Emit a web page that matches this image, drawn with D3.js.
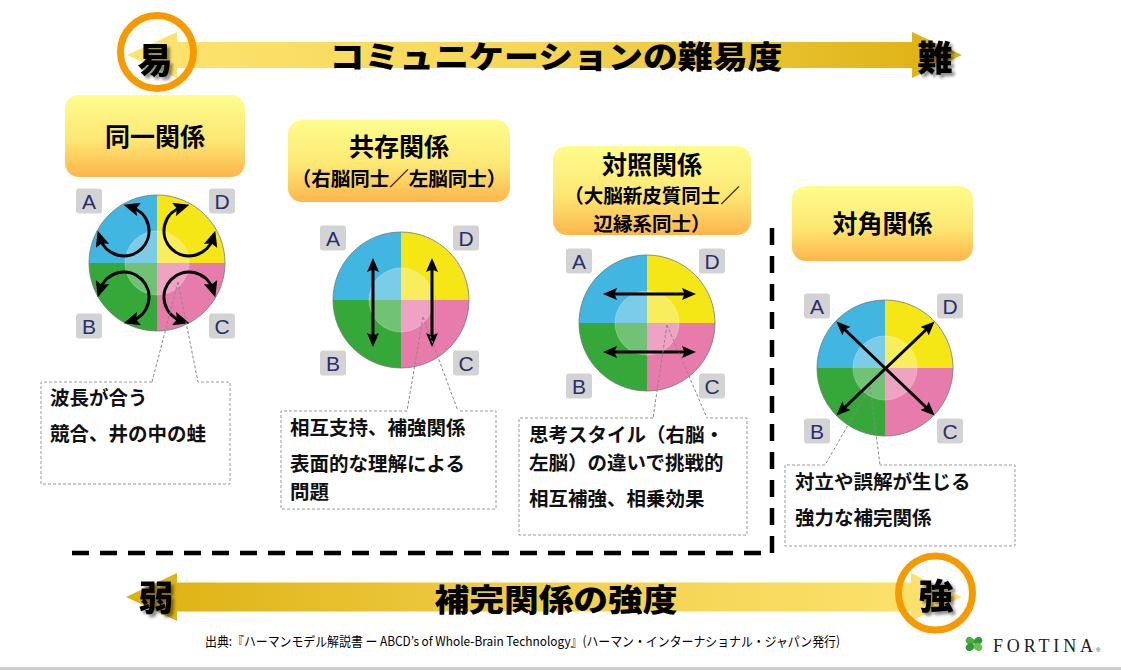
<!DOCTYPE html>
<html><head><meta charset="utf-8">
<script src="https://cdn.jsdelivr.net/npm/d3@7"></script>
<style>
html,body{margin:0;padding:0;background:#fff;}
svg{display:block;}
</style></head>
<body>
<svg id="chart" width="1121" height="670"></svg>
<script>
// ---------- data ----------
const topAxisTitle = "コミュニケーションの難易度";
const topAxisEnds = ["易", "難"];
const bottomAxisTitle = "補完関係の強度";
const bottomAxisEnds = ["弱", "強"];
const relationNames = ["同一関係", "共存関係", "対照関係", "対角関係"];
const relationSubs = [[], ["（右脳同士／左脳同士）"], ["（大脳新皮質同士／", "辺縁系同士）"], []];
const relationArrows = ["rotate", "vertical", "horizontal", "diagonal"];
const descriptions = [
  [["波長が合う"], ["競合、井の中の蛙"]],
  [["相互支持、補強関係"], ["表面的な理解による", "問題"]],
  [["思考スタイル（右脳・", "左脳）の違いで挑戦的"], ["相互補強、相乗効果"]],
  [["対立や誤解が生じる"], ["強力な補完関係"]]
];
const quadrantOrder = ["D", "C", "B", "A"];
const quadrantColors = ["#f5e616", "#e77bab", "#36a83a", "#41b6e0"];
const sourceText = "出典:『ハーマンモデル解説書 ー ABCD’s of Whole-Brain Technology』(ハーマン・インターナショナル・ジャパン発行)";
const logoText = "FORTINA";

// ---------- layout ----------
const JP = "'Noto Sans CJK JP','Noto Sans',sans-serif";
const svg = d3.select("#chart");
const defs = svg.append("defs");

function linGrad(id, x1, x2, stops) {
  const g = defs.append("linearGradient").attr("id", id)
    .attr("gradientUnits", "userSpaceOnUse")
    .attr("x1", x1).attr("x2", x2).attr("y1", 0).attr("y2", 0);
  stops.forEach(s => g.append("stop").attr("offset", s[0]).attr("stop-color", s[1]));
}
linGrad("gTop", 127, 962, [[0, "#fde470"], [0.5, "#f5d554"], [1, "#dcb010"]]);
linGrad("gBot", 126, 962, [[0, "#dcb010"], [0.5, "#f1cf4a"], [1, "#fde470"]]);
const lg = defs.append("linearGradient").attr("id", "gLabel").attr("x1", 0).attr("x2", 0).attr("y1", 0).attr("y2", 1);
[[0, "#fefd8d"], [0.55, "#fde774"], [1, "#fdb54a"]].forEach(s => lg.append("stop").attr("offset", s[0]).attr("stop-color", s[1]));

const f = defs.append("filter").attr("id", "shadow").attr("x", "-20%").attr("y", "-20%").attr("width", "150%").attr("height", "150%");
f.append("feGaussianBlur").attr("in", "SourceAlpha").attr("stdDeviation", 1.6).attr("result", "b");
f.append("feOffset").attr("in", "b").attr("dx", 2.5).attr("dy", 2.5).attr("result", "o");
f.append("feComponentTransfer").attr("in", "o").attr("result", "o2")
  .append("feFuncA").attr("type", "linear").attr("slope", 0.45);
const fm = f.append("feMerge");
fm.append("feMergeNode").attr("in", "o2");
fm.append("feMergeNode").attr("in", "SourceGraphic");

function marker(id, w, h, refX) {
  defs.append("marker").attr("id", id)
    .attr("viewBox", `0 0 ${w} ${h}`).attr("markerUnits", "userSpaceOnUse")
    .attr("markerWidth", w).attr("markerHeight", h)
    .attr("refX", refX).attr("refY", h / 2).attr("orient", "auto-start-reverse")
    .append("path").attr("d", `M0,0 L${w},${h / 2} L0,${h} L${w * 0.18},${h / 2} Z`).attr("fill", "#000");
}
marker("ah", 14, 12, 9);
marker("ah2", 16, 14, 8);

// ---------- big axis arrows ----------
function bigArrow(y, bodyH, headH, x0, x1, headL, fill) {
  const by0 = y - bodyH / 2, by1 = y + bodyH / 2, hy0 = y - headH / 2, hy1 = y + headH / 2;
  const p = d3.path();
  p.moveTo(x0, y); p.lineTo(x0 + headL, hy0); p.lineTo(x0 + headL, by0);
  p.lineTo(x1 - headL, by0); p.lineTo(x1 - headL, hy0); p.lineTo(x1, y);
  p.lineTo(x1 - headL, hy1); p.lineTo(x1 - headL, by1); p.lineTo(x0 + headL, by1);
  p.lineTo(x0 + headL, hy1); p.closePath();
  svg.append("path").attr("d", p.toString()).attr("fill", fill);
}
bigArrow(55, 26, 46, 127, 962, 50, "url(#gTop)");
bigArrow(597, 29, 48, 126, 962, 51, "url(#gBot)");

// rings
svg.append("circle").attr("cx", 157).attr("cy", 52).attr("r", 36.5)
  .attr("fill", "none").attr("stroke", "#f79a00").attr("stroke-width", 7);
svg.append("circle").attr("cx", 935.5).attr("cy", 593).attr("r", 37)
  .attr("fill", "none").attr("stroke", "#f79a00").attr("stroke-width", 7);

function bigText(txt, x, y, size, len, shadow) {
  const t = svg.append("text").attr("x", x).attr("y", y)
    .attr("text-anchor", "middle").attr("dominant-baseline", "central")
    .attr("font-family", JP).attr("font-weight", 900).attr("font-size", size)
    .attr("fill", "#000").text(txt);
  if (len) t.attr("textLength", len).attr("lengthAdjust", "spacingAndGlyphs");
  if (shadow) t.attr("filter", "url(#shadow)");
  return t;
}
bigText(topAxisTitle, 556, 54, 31, 453, false);
bigText(topAxisEnds[0], 155, 57, 35, null, true);
bigText(topAxisEnds[1], 935, 55, 35, null, true);
bigText(bottomAxisTitle, 556, 597, 31, 243, false);
bigText(bottomAxisEnds[0], 156, 595, 35, null, true);
bigText(bottomAxisEnds[1], 936, 593, 35, null, true);

// ---------- groups ----------
const groups = [
  {box: [65, 95, 180, 82], textY: [135], c: [157, 263], call: [41, 382, 189, 102], from: [178, 282], gap: [152, 198], tx: 50, ty: 396},
  {box: [288, 120, 222, 82], textY: [145, 177.5], c: [401, 300], call: [281, 411, 215, 98], from: [423, 317], gap: [407, 458], tx: 290, ty: 426},
  {box: [553, 146, 198, 89], textY: [163, 194.5, 222.5], c: [647, 323], call: [519, 418, 228, 117], from: [667, 325], gap: [653, 707], tx: 529, ty: 433},
  {box: [792, 186, 181, 75], textY: [222], c: [885, 368], call: [785, 465, 230, 81], from: [870, 387], gap: [825, 880], tx: 795, ty: 480}
];
const R = 68;
const pieData = d3.pie().sort(null).value(() => 1)(quadrantOrder);
const arcGen = d3.arc().innerRadius(0).outerRadius(R);
const labelOffsets = {A: [-68, -62], D: [65, -62], B: [-68, 63], C: [65, 63]};

relationNames.forEach((name, i) => {
  const gdef = groups[i];
  const g = svg.append("g");
  // label box
  const [bx, by, bw, bh] = gdef.box;
  g.append("rect").attr("x", bx).attr("y", by).attr("width", bw).attr("height", bh)
    .attr("rx", 14).attr("fill", "url(#gLabel)");
  const lines = [name].concat(relationSubs[i]);
  lines.forEach((l, j) => {
    g.append("text").attr("x", bx + bw / 2).attr("y", gdef.textY[j])
      .attr("text-anchor", "middle").attr("dominant-baseline", "central")
      .attr("font-family", JP).attr("font-weight", 700).attr("fill", "#000")
      .attr("font-size", j === 0 ? 25 : 19.5).text(l);
  });

  // circle
  const [cx, cy] = gdef.c;
  const cg = g.append("g").attr("transform", `translate(${cx},${cy})`);
  cg.selectAll("path.q").data(pieData).join("path").attr("class", "q")
    .attr("d", arcGen).attr("fill", (d, k) => quadrantColors[k]);
  cg.append("circle").attr("r", R).attr("fill", "none").attr("stroke", "#777").attr("stroke-width", 0.8);
  cg.append("circle").attr("r", 32).attr("fill", "#fff").attr("fill-opacity", 0.3)
    .attr("stroke", "#fff").attr("stroke-opacity", 0.25).attr("stroke-width", 1);

  // quadrant letters
  quadrantOrder.forEach(q => {
    const [ox, oy] = labelOffsets[q];
    g.append("rect").attr("x", cx + ox - 13).attr("y", cy + oy - 12.5).attr("width", 26).attr("height", 25)
      .attr("rx", 3).attr("fill", "#d3d3d3");
    g.append("text").attr("x", cx + ox).attr("y", cy + oy + 7.5)
      .attr("text-anchor", "middle").attr("font-family", "'Liberation Sans',Arial,sans-serif")
      .attr("font-size", 21).attr("fill", "#25306c").text(q);
  });

  // arrows
  const ag = cg.append("g").attr("stroke", "#000").attr("stroke-width", 3).attr("fill", "none");
  const type = relationArrows[i];
  const seg = (x1, y1, x2, y2) => ag.append("path").attr("d", `M${x1},${y1}L${x2},${y2}`)
    .attr("marker-start", "url(#ah)").attr("marker-end", "url(#ah)");
  if (type === "vertical") { seg(-28, -37, -28, 42); seg(31, -37, 31, 42); }
  if (type === "horizontal") { seg(-39, -29, 44, -29); seg(-39, 29, 44, 29); }
  if (type === "diagonal") { seg(-45, -43, 46, 44); seg(-45, 44, 46, -43); }
  if (type === "rotate") {
    const corners = [[-33, -32, 225], [32, -32, 315], [-33, 34, 135], [32, 34, 45]];
    corners.forEach(([ox, oy, phi]) => {
      const p = d3.path();
      const a0 = (phi + 62) * Math.PI / 180, a1 = (phi + 298) * Math.PI / 180;
      p.moveTo(ox + 25 * Math.cos(a0), oy + 25 * Math.sin(a0));
      p.arc(ox, oy, 25, a0, a1, false);
      ag.append("path").attr("d", p.toString())
        .attr("marker-start", "url(#ah2)").attr("marker-end", "url(#ah2)");
    });
  }

  // callout
  const [kx, ky, kw, kh] = gdef.call;
  const [fx, fy] = gdef.from;
  const dash = "3,2";
  g.append("path").attr("d", `M${fx},${fy}L${gdef.gap[0]},${ky}M${fx},${fy}L${gdef.gap[1]},${ky}`)
    .attr("stroke", "#888").attr("stroke-width", 1).attr("stroke-dasharray", dash).attr("fill", "none");
  g.append("path")
    .attr("d", `M${gdef.gap[0]},${ky}H${kx}V${ky + kh}H${kx + kw}V${ky}H${gdef.gap[1]}`)
    .attr("stroke", "#999").attr("stroke-width", 1).attr("stroke-dasharray", dash).attr("fill", "none");
  let y = gdef.ty;
  descriptions[i].forEach((para, pi) => {
    if (pi > 0) y += 36;
    para.forEach((line, li) => {
      if (li > 0) y += 28.4;
      g.append("text").attr("x", gdef.tx).attr("y", y).attr("dominant-baseline", "central")
        .attr("font-family", JP).attr("font-weight", 700)
        .attr("font-size", 19.5).attr("fill", "#111").text(line);
    });
  });
});

// big dashed separator
svg.append("path").attr("d", "M772,228V553H62").attr("fill", "none")
  .attr("stroke", "#000").attr("stroke-width", 4.5).attr("stroke-dasharray", "17,11");

// source
svg.append("text").attr("x", 205).attr("y", 640).attr("dominant-baseline", "central")
  .attr("font-family", JP).attr("font-size", 13).attr("fill", "#000")
  .attr("textLength", 635).attr("lengthAdjust", "spacingAndGlyphs").text(sourceText);

// logo
const lgG = svg.append("g").attr("transform", "translate(974,644)");
[[-4, -3, "#4caf3c"], [4, -3, "#2e9b3a"], [-4, 3, "#2e9b3a"], [4, 3, "#6cc04a"]].forEach(([x, yy, c]) => {
  lgG.append("ellipse").attr("cx", x).attr("cy", yy).attr("rx", 4.5).attr("ry", 3.6).attr("fill", c)
    .attr("transform", `rotate(${x * yy > 0 ? 35 : -35},${x},${yy})`);
});
svg.append("text").attr("x", 993).attr("y", 652).attr("font-family", "'Liberation Serif',serif")
  .attr("font-size", 18).attr("fill", "#222").attr("textLength", 100).attr("lengthAdjust", "spacing").text(logoText);
svg.append("text").attr("x", 1096).attr("y", 652).attr("font-family", "'Liberation Sans',sans-serif")
  .attr("font-size", 6).attr("fill", "#333").text("®");

// bottom rule
svg.append("rect").attr("x", 0).attr("y", 667).attr("width", 1121).attr("height", 3).attr("fill", "#cfcfcf");
</script>
</body></html>
